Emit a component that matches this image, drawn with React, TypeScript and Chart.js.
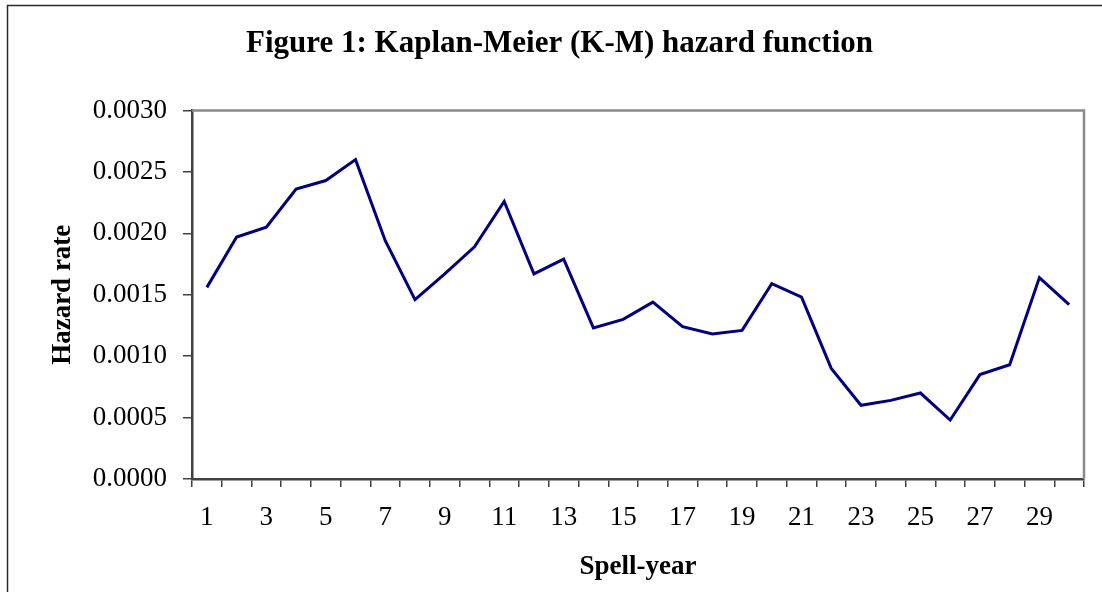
import React, { useEffect, useRef } from "react";
import { Chart, registerables } from "chart.js";

Chart.register(...registerables);

const spellYears: string[] = [
  "1", "2", "3", "4", "5", "6", "7", "8", "9", "10",
  "11", "12", "13", "14", "15", "16", "17", "18", "19", "20",
  "21", "22", "23", "24", "25", "26", "27", "28", "29", "30",
];

const hazardRates: number[] = [
  0.00156, 0.00197, 0.00205, 0.00236, 0.00243, 0.00260, 0.00194, 0.00146, 0.00167, 0.00189,
  0.00226, 0.00167, 0.00179, 0.00123, 0.00130, 0.00144, 0.00124, 0.00118, 0.00121, 0.00159,
  0.00148, 0.00090, 0.00060, 0.00064, 0.00070, 0.00048, 0.00085, 0.00093, 0.00164, 0.00142,
];

const yMin = 0;
const yMax = 0.003;
const yStep = 0.0005;

const titleText = "Figure 1: Kaplan-Meier (K-M) hazard function";
const xTitle = "Spell-year";
const yTitle = "Hazard rate";

const SERIF = '"Liberation Serif", "Times New Roman", serif';

export default function App() {
  const canvasRef = useRef<HTMLCanvasElement | null>(null);

  useEffect(() => {
    const canvas = canvasRef.current;
    if (!canvas) return;

    const framePlugin = {
      id: "framePlugin",
      beforeDraw(chart: any) {
        const ctx = chart.ctx;
        ctx.save();
        ctx.fillStyle = "#ffffff";
        ctx.fillRect(0, 0, chart.width, chart.height);
        ctx.restore();
      },
      afterDraw(chart: any) {
        const ctx = chart.ctx;
        const a = chart.chartArea;
        ctx.save();
        // plot area top/right border
        ctx.strokeStyle = "#8a8a8a";
        ctx.lineWidth = 2.5;
        ctx.beginPath();
        ctx.moveTo(a.left, a.top);
        ctx.lineTo(a.right, a.top);
        ctx.lineTo(a.right, a.bottom);
        ctx.stroke();
        // outer frame
        ctx.strokeStyle = "#2a2a2a";
        ctx.lineWidth = 1.5;
        ctx.strokeRect(7.5, 5.5, chart.width + 20, chart.height + 20);
        ctx.restore();
      },
    };

    const chart = new Chart(canvas, {
      type: "line",
      data: {
        labels: spellYears,
        datasets: [
          {
            label: yTitle,
            data: hazardRates,
            borderColor: "#000080",
            borderWidth: 3,
            pointRadius: 0,
            pointHoverRadius: 0,
            tension: 0,
            fill: false,
          },
        ],
      },
      options: {
        responsive: false,
        maintainAspectRatio: false,
        animation: false,
        layout: { padding: { left: 35, right: 18, top: 0, bottom: 0 } },
        plugins: {
          legend: { display: false },
          tooltip: { enabled: false },
          title: {
            display: true,
            text: titleText,
            color: "#000000",
            font: { family: SERIF, size: 31, weight: "bold" },
            padding: { top: 25, bottom: 48.3 },
          },
        },
        scales: {
          x: {
            type: "category",
            offset: true,
            afterFit: (scale: any) => {
              scale.height = 113;
            },
            grid: {
              offset: true,
              drawOnChartArea: false,
              drawTicks: true,
              tickLength: 8,
              tickColor: "#404040",
              lineWidth: 1.5,
            },
            border: { display: true, color: "#404040", width: 2.5 },
            ticks: {
              autoSkip: false,
              maxRotation: 0,
              minRotation: 0,
              padding: 15,
              color: "#000000",
              font: { family: SERIF, size: 27 },
              callback: (_v: any, i: number) => (i % 2 === 0 ? spellYears[i] : ""),
            },
            title: {
              display: true,
              text: xTitle,
              color: "#000000",
              font: { family: SERIF, size: 27, weight: "bold" },
              padding: { top: 0, bottom: 9 },
            },
          },
          y: {
            type: "linear",
            min: yMin,
            max: yMax,
            afterFit: (scale: any) => {
              scale.width = 157;
            },
            grid: {
              drawOnChartArea: false,
              drawTicks: true,
              tickLength: 9,
              tickColor: "#404040",
              lineWidth: 1.5,
            },
            border: { display: true, color: "#404040", width: 2.5 },
            ticks: {
              stepSize: yStep,
              padding: 16,
              color: "#000000",
              font: { family: SERIF, size: 27 },
              callback: (v: any) => Number(v).toFixed(4),
            },
            title: {
              display: true,
              text: yTitle,
              color: "#000000",
              font: { family: SERIF, size: 27, weight: "bold" },
              padding: { top: 12, bottom: 0 },
            },
          },
        },
      },
      plugins: [framePlugin],
    });

    return () => {
      chart.destroy();
    };
  }, []);

  return (
    <div style={{ position: "fixed", left: 0, top: 0, width: 1102, height: 592, background: "#fff" }}>
      <canvas ref={canvasRef} width={1102} height={592} style={{ display: "block" }} />
    </div>
  );
}
